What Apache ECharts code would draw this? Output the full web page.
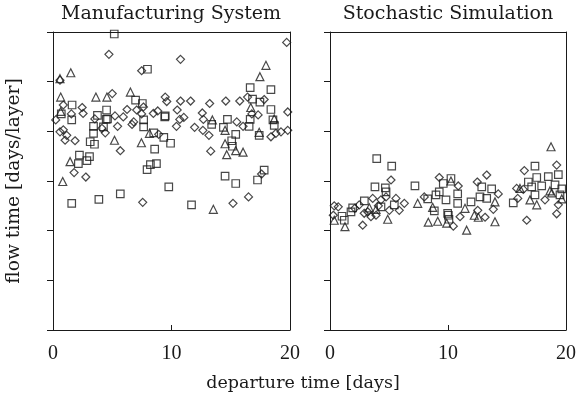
<!DOCTYPE html>
<html>
<head>
<meta charset="utf-8">
<script src="https://cdn.jsdelivr.net/npm/echarts@6/dist/echarts.min.js"></script>
<style>html,body{margin:0;padding:0;background:#fff}#c{width:581px;height:401px}</style>
</head>
<body>
<div id="c"></div>
<script>
// ---- data (departure time [days], flow time in axis units) ----
const panelTitles = ["Manufacturing System", "Stochastic Simulation"];
const xTicks = [0, 10, 20];
const xName = "departure time [days]";
const yName = "flow time [days/layer]";

const msSquares = [
  [5.17,5.96],[7.97,5.25],[6.97,4.63],[7.54,4.56],[1.61,4.53],[0.70,4.35],[4.52,4.43],[3.75,4.32],
  [9.47,4.31],[4.60,4.25],[16.64,4.88],[18.39,4.84],[16.84,4.65],[17.46,4.59],[18.39,4.44],[1.58,4.23],
  [3.42,4.10],[4.49,4.24],[7.65,4.23],[7.65,4.09],[9.43,4.29],[13.39,4.14],[14.72,4.24],[14.38,4.08],
  [16.64,4.24],[16.55,4.10],[18.56,4.23],[3.42,3.96],[3.14,3.79],[3.50,3.74],[4.26,4.09],[8.50,3.97],
  [9.35,3.88],[9.92,3.76],[8.58,3.64],[15.42,3.94],[15.08,3.81],[15.14,3.70],[17.40,3.92],[18.67,4.12],
  [2.23,3.52],[2.14,3.35],[2.86,3.41],[3.08,3.49],[7.94,3.23],[8.22,3.33],[8.73,3.35],[9.77,2.88],
  [14.52,3.10],[15.42,2.95],[17.26,3.02],[17.82,3.22],[1.58,2.55],[3.87,2.63],[5.68,2.74],[11.69,2.52]
];
const msDiamonds = [
  [4.72,5.55],[7.48,5.22],[0.59,5.03],[5.00,4.76],[7.63,4.49],[9.47,4.69],[9.60,4.60],[0.87,4.53],
  [2.46,4.48],[2.54,4.36],[1.55,4.35],[5.23,4.31],[5.93,4.29],[6.25,4.44],[7.06,4.43],[7.48,4.35],
  [8.47,4.36],[8.84,4.41],[3.53,4.25],[19.72,5.79],[10.76,5.45],[10.76,4.61],[11.61,4.61],[13.22,4.56],
  [14.58,4.61],[15.76,4.61],[16.42,4.69],[17.82,4.64],[19.81,4.39],[0.23,4.23],[6.81,4.19],[10.48,4.43],
  [10.42,4.10],[10.70,4.24],[11.04,4.28],[12.60,4.37],[12.69,4.24],[11.95,4.08],[15.51,4.19],[16.04,4.10],
  [16.78,4.35],[17.31,4.33],[19.81,4.02],[19.24,3.99],[18.81,3.96],[18.39,3.89],[0.59,3.99],[0.87,4.03],
  [1.02,3.82],[1.16,3.92],[1.86,3.81],[4.13,4.06],[4.41,3.97],[5.45,4.10],[5.68,3.61],[6.67,4.14],
  [8.92,3.94],[12.65,4.02],[13.16,3.92],[13.31,3.60],[1.78,3.17],[2.77,3.08],[7.57,2.57],[15.19,2.55],
  [16.50,2.68],[17.60,3.14]
];
const msTriangles = [
  [1.50,5.18],[0.59,5.06],[0.65,4.69],[3.62,4.69],[4.55,4.69],[6.53,4.79],[0.65,4.40],[17.97,5.33],
  [17.46,5.10],[16.69,4.48],[14.52,4.02],[13.45,4.23],[18.67,4.25],[5.19,3.82],[7.46,3.77],[8.14,3.96],
  [14.52,3.75],[14.66,3.53],[15.42,3.61],[16.04,3.58],[17.40,3.98],[1.44,3.39],[0.82,2.99],[13.53,2.43]
];

const ssSquares = [
  [3.96,3.45],[5.23,3.30],[3.81,2.88],[4.69,2.86],[4.75,2.78],[7.20,2.90],[1.02,2.29],[1.21,2.21],
  [1.92,2.46],[1.78,2.38],[2.91,2.60],[4.32,2.48],[5.45,2.52],[8.28,2.64],[8.98,2.72],[8.84,2.40],
  [9.60,2.95],[9.26,2.78],[9.83,2.62],[9.97,2.35],[10.25,3.05],[10.82,2.74],[12.86,2.88],[13.70,2.84],
  [12.71,2.68],[13.28,2.65],[11.95,2.58],[10.82,2.55],[10.03,2.31],[10.08,2.23],[15.53,2.56],[17.37,3.30],
  [16.81,2.98],[17.52,3.07],[18.50,3.09],[19.35,3.13],[17.09,2.88],[17.94,2.90],[19.07,2.92],[17.37,2.72],
  [19.64,2.84],[19.49,2.72]
];
const ssDiamonds = [
  [5.17,3.02],[0.36,2.50],[0.70,2.48],[0.28,2.31],[2.77,2.11],[2.48,2.52],[3.62,2.65],[3.19,2.38],
  [3.47,2.28],[3.90,2.31],[4.32,2.62],[4.75,2.68],[5.59,2.65],[6.30,2.55],[5.87,2.41],[5.03,2.41],
  [7.99,2.68],[9.26,3.07],[10.87,2.90],[13.28,3.12],[12.48,2.98],[14.26,2.74],[12.52,2.41],[13.14,2.27],
  [13.84,2.43],[11.02,2.28],[10.45,2.09],[15.91,2.65],[15.82,2.85],[16.38,2.83],[16.47,3.21],[19.21,3.32],
  [18.22,2.62],[19.35,2.52],[19.21,2.34],[16.67,2.21],[2.1,2.45],[2.9,2.35],[4.1,2.5]
];
const ssTriangles = [
  [18.73,3.69],[0.36,2.21],[1.27,2.08],[3.33,2.46],[3.90,2.43],[4.89,2.23],[7.43,2.55],[8.70,2.47],
  [8.33,2.17],[9.13,2.19],[9.89,2.15],[11.44,2.45],[12.23,2.31],[12.57,2.27],[11.58,2.01],[13.98,2.18],
  [13.98,2.58],[17.52,2.52],[16.95,2.62],[18.79,2.76],[19.64,2.64],[10.25,3.00],[16.10,2.85],[18.64,2.80]
];

// ---- chart ----
const ink = '#1a1a1a';
const grids = [
  {left: 53, right: 291, top: 32, bottom: 71},
  {left: 330, right: 15, top: 32, bottom: 71}
];
function xAx(i) {
  return [{
    gridIndex: i, type: 'value', min: 0, max: 20, interval: 10, position: 'bottom',
    axisLine: {onZero: false, lineStyle: {color: ink, width: 1}},
    axisTick: {inside: true, length: 5, lineStyle: {color: ink}},
    axisLabel: {color: ink, fontFamily: 'Liberation Serif', fontSize: 20, margin: 14,
      formatter: v => xTicks.includes(v) ? String(v) : ''},
    splitLine: {show: false}
  }, {
    gridIndex: i, type: 'value', min: 0, max: 20, position: 'top',
    axisLine: {onZero: false, lineStyle: {color: ink, width: 1}},
    axisTick: {show: false}, axisLabel: {show: false}, splitLine: {show: false}
  }];
}
function yAx(i) {
  const a = [{
    gridIndex: i, type: 'value', min: 0, max: 6, interval: 1, position: 'left',
    axisLine: {show: true, onZero: false, lineStyle: {color: ink, width: 1}},
    axisTick: {show: true, inside: false, length: 6, lineStyle: {color: ink}},
    axisLabel: {show: false}, splitLine: {show: false}
  }, {
    gridIndex: i, type: 'value', min: 0, max: 6, position: 'right',
    axisLine: {show: true, onZero: false, lineStyle: {color: ink, width: 1}},
    axisTick: {show: false}, axisLabel: {show: false}, splitLine: {show: false}
  }];
  if (i === 0) {
    a[0].name = yName;
    a[0].nameLocation = 'middle';
    a[0].nameGap = 29;
    a[0].nameTextStyle = {color: ink, fontFamily: 'DejaVu Serif', fontSize: 18.7};
  }
  return a;
}
const mk = {borderColor: ink, borderWidth: 1.2, color: 'rgba(0,0,0,0)'};
function sc(data, sym, size, xi, yi) {
  return {type: 'scatter', data: data, symbol: sym, symbolSize: size, xAxisIndex: xi, yAxisIndex: yi,
    itemStyle: mk, silent: true, animation: false, clip: false};
}
function txt(s, x, y, size) {
  return {type: 'text', x: x, y: y, silent: true,
    style: {text: s, fill: ink, font: 'normal ' + size + 'px "DejaVu Serif"',
      textAlign: 'center', textVerticalAlign: 'middle'}};
}
const option = {
  animation: false,
  backgroundColor: '#fff',
  graphic: [
    txt(panelTitles[0], 171, 14, 19),
    txt(panelTitles[1], 448, 14, 19),
    txt(xName, 303, 383, 17.5)
  ],
  grid: grids,
  xAxis: [...xAx(0), ...xAx(1)],
  yAxis: [...yAx(0), ...yAx(1)],
  series: [
    sc(msSquares, 'rect', 7.5, 0, 0),
    sc(msDiamonds, 'diamond', 8, 0, 0),
    sc(msTriangles, 'triangle', 8, 0, 0),
    sc(ssSquares, 'rect', 7.5, 2, 2),
    sc(ssDiamonds, 'diamond', 8, 2, 2),
    sc(ssTriangles, 'triangle', 8, 2, 2)
  ]
};
const chart = echarts.init(document.getElementById('c'), null, {renderer: 'canvas'});
chart.setOption(option);
</script>
</body>
</html>
